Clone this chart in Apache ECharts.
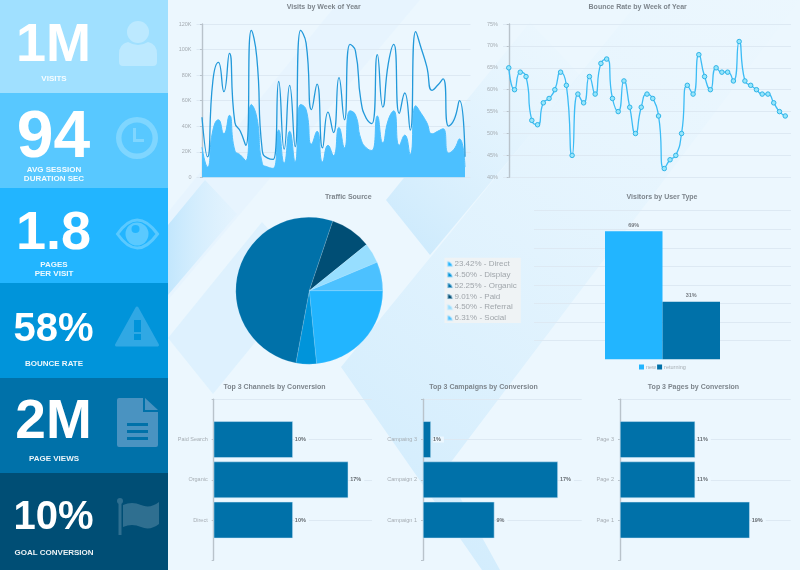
<!DOCTYPE html>
<html>
<head>
<meta charset="utf-8">
<style>
  html, body { margin: 0; padding: 0; background: #e9f6fe; }
  #main { width: 800px; height: 570px; }
</style>
<script src="https://cdn.jsdelivr.net/npm/echarts@6/dist/echarts.min.js"></script>
</head>
<body>
<div id="main"></div>
<script>
// kpi tiles
const tileValues = ['1M', '94', '1.8', '58%', '2M', '10%']
const tileLabels = [['VISITS'], ['AVG SESSION', 'DURATION SEC'], ['PAGES', 'PER VISIT'], ['BOUNCE RATE'], ['PAGE VIEWS'], ['GOAL CONVERSION']]

// weekly charts, values
const visitsTotal = [47000, 16000, 76000, 90000, 67000, 97000, 43000, 36000, 25000, 115000, 94000, 21000, 15000, 14000, 75000, 22000, 72000, 24000, 115000, 105000, 53000, 73000, 23000, 51000, 35000, 78000, 45000, 104000, 99000, 60000, 46000, 42000, 96000, 55000, 89000, 104000, 50000, 66000, 37000, 114000, 101000, 87000, 68000, 72000, 77000, 40000, 45000, 60000, 16000]
const visitsNew = [23500, 8000, 37000, 45000, 34000, 48500, 21000, 17500, 13000, 57000, 47000, 11000, 8000, 7000, 37000, 11000, 36000, 12000, 57000, 53000, 26000, 36000, 12000, 25000, 17000, 39000, 23000, 52000, 49000, 30000, 23000, 21000, 48000, 27000, 45000, 52000, 25000, 33000, 18000, 56000, 50000, 43000, 34000, 36000, 38000, 19000, 22000, 30000, 8000]
const bounceRate = [65, 60, 64, 63, 53, 52, 57, 58, 60, 64, 61, 45, 59, 57, 63, 59, 66, 67, 58, 55, 62, 56, 50, 56, 59, 58, 54, 42, 44, 45, 50, 61, 59, 68, 63, 60, 65, 64, 64, 62, 71, 62, 61, 60, 59, 59, 57, 55, 54]

// traffic source pie
const trafficNames = ['Direct', 'Display', 'Organic', 'Paid', 'Referral', 'Social']
const trafficValues = [23.42, 4.5, 52.25, 9.01, 4.5, 6.31]
const trafficColors = ['#22b5ff', '#0094da', '#0071a9', '#004e75', '#97deff', '#4cc1ff']

// user type bars
const userTypes = ['new', 'returning']
const userValues = [69, 31]

// top 3 bars, blank slots keep the axis ends free
const channelCats = ['', 'Direct', 'Organic', 'Paid Search', '']
const channelVals = [null, 10, 17, 10, null]
const campaignCats = ['', 'Campaign 1', 'Campaign 2', 'Campaing 3', '']
const campaignVals = [null, 9, 17, 1, null]
const pageCats = ['', 'Page 1', 'Page 2', 'Page 3', '']
const pageVals = [null, 19, 11, 11, null]

const FONT = "'Liberation Sans', Arial, sans-serif"
const GRID_LINE = { show: true, lineStyle: { color: '#dde9f3', width: 1.2 } }
const AXIS_LINE = { show: true, lineStyle: { color: '#b9c3cb', width: 1.4 } }
const TICK = { show: true, length: 2, lineStyle: { color: '#b9c3cb' } }
const LABEL = { color: '#a6adb3', fontSize: 5.5, fontFamily: FONT, margin: 5 }

const gradient = (a, b, x2 = 1, y = 0) => ({
  type: 'linear', x: 0, y, x2, y2: 0,
  colorStops: [{ offset: 0, color: a }, { offset: 1, color: b }],
})

const poly = (points, fill) => ({ type: 'polygon', z: -10, silent: true, shape: { points }, style: { fill } })

const background = [
  { type: 'rect', z: -11, silent: true, shape: { x: 168, y: 0, width: 632, height: 570 }, style: { fill: '#ecf7fe' } },
  poly([[168, 212], [340, 0], [420, 0], [168, 300]], 'rgba(214,238,253,0.22)'),
  poly([[168, 225], [168, 295], [237, 214], [205, 180]], gradient('rgba(190,229,253,0.9)', 'rgba(215,239,253,0.2)')),
  poly([[168, 338], [213, 394], [310, 275], [262, 222]], 'rgba(212,237,253,0.55)'),
  poly([[386, 200], [430, 255], [580, 75], [530, 22]], gradient('rgba(195,230,252,0.85)', 'rgba(225,243,254,0.03)', 1, 1)),
  poly([[341, 367], [640, 0], [800, 0], [445, 470], [500, 570], [482, 570]], gradient('rgba(195,230,252,0.75)', 'rgba(225,243,254,0.03)', 1, 1)),
]

const tileColors = ['#a0e0ff', '#58c8ff', '#22b5ff', '#0094da', '#0071a9', '#004e75']
const tileTops = [0, 93, 188, 283, 378, 473, 570]
const valueSizes = [54, 66, 54, 40, 55, 40]
const valueY = [46, 139, 234, 330, 423, 518]
const labelY = [79, 170, 265, 364, 459, 553]

const tiles = []
tileColors.forEach((color, i) => {
  tiles.push({ type: 'rect', silent: true, shape: { x: 0, y: tileTops[i], width: 168, height: tileTops[i + 1] - tileTops[i] }, style: { fill: color } })
  tiles.push({
    type: 'text', silent: true,
    style: { text: tileValues[i], x: 53.5, y: valueY[i], textAlign: 'center', textVerticalAlign: 'middle', fill: '#fff', font: `bold ${valueSizes[i]}px ${FONT}` },
  })
  tileLabels[i].forEach((line, j) => {
    tiles.push({
      type: 'text', silent: true,
      style: { text: line, x: 54, y: labelY[i] + j * 9, textAlign: 'center', textVerticalAlign: 'middle', fill: 'rgba(255,255,255,0.92)', font: `bold 8px ${FONT}` },
    })
  })
})

// graphic has no raw svg path element, so each icon path gets its own shape class
let shapeCount = 0
const svgShape = (d, style) => {
  const name = 'iconPath' + shapeCount++
  echarts.graphic.registerShape(name, echarts.graphic.extendPath(d, {}))
  return { type: name, silent: true, style }
}

// icons are solid tints of their tile, holes painted in the tile colour
const iconColors = ['#bce9ff', '#7fd6ff', '#5ac9ff', '#30a8e4', '#4a93c1', '#2f6f90']
const icons = [
  // user
  { type: 'circle', silent: true, shape: { cx: 138, cy: 32, r: 11 }, style: { fill: iconColors[0] } },
  svgShape('M128 42 Q138 48 148 42 Q157 44 157 54 L157 62 Q157 66 153 66 L123 66 Q119 66 119 62 L119 54 Q119 44 128 42 Z', { fill: iconColors[0] }),
  // clock
  { type: 'ring', silent: true, shape: { cx: 137, cy: 138, r: 21, r0: 15.5 }, style: { fill: iconColors[1] } },
  svgShape('M133 128 L136 128 L136 139 L144 139 L144 142 L133 142 Z', { fill: iconColors[1] }),
  // eye
  svgShape('M117.5 234 Q137 206 157.5 234 Q137 262 117.5 234 Z', { fill: 'none', stroke: iconColors[2], lineWidth: 3 }),
  { type: 'circle', silent: true, shape: { cx: 137, cy: 234, r: 11.5 }, style: { fill: iconColors[2] } },
  { type: 'circle', silent: true, shape: { cx: 135.5, cy: 229, r: 4 }, style: { fill: '#22b5ff' } },
  // warning
  svgShape('M137 308 L157.5 345 L116.5 345 Z', { fill: iconColors[3], stroke: iconColors[3], lineWidth: 3, lineJoin: 'round' }),
  { type: 'rect', silent: true, shape: { x: 134, y: 320, width: 7, height: 12 }, style: { fill: '#0094da' } },
  { type: 'rect', silent: true, shape: { x: 134, y: 334, width: 7, height: 6 }, style: { fill: '#0094da' } },
  // document
  svgShape('M119 398 L143 398 L143 412 L158 412 L158 445 Q158 447 156 447 L119 447 Q117 447 117 445 L117 400 Q117 398 119 398 Z', { fill: iconColors[4] }),
  svgShape('M145 398 L158 410 L145 410 Z', { fill: iconColors[4] }),
  { type: 'rect', silent: true, shape: { x: 127, y: 423, width: 21, height: 3 }, style: { fill: '#0071a9' } },
  { type: 'rect', silent: true, shape: { x: 127, y: 430, width: 21, height: 3 }, style: { fill: '#0071a9' } },
  { type: 'rect', silent: true, shape: { x: 127, y: 437, width: 21, height: 3 }, style: { fill: '#0071a9' } },
  // flag
  { type: 'circle', silent: true, shape: { cx: 120, cy: 501, r: 3 }, style: { fill: iconColors[5] } },
  { type: 'rect', silent: true, shape: { x: 118.5, y: 502, width: 3, height: 33 }, style: { fill: iconColors[5] } },
  svgShape('M123 505 Q132 501 141 505 Q150 509 159 502 L159 524 Q150 531 141 527 Q132 523 123 527 Z', { fill: iconColors[5] }),
]

const titleAt = (text, x, y) => ({
  text, left: x, top: y, textAlign: 'center', padding: 0,
  textStyle: { color: '#7d858c', fontSize: 7, fontWeight: 'bold', fontFamily: FONT },
})

const weekAxis = (gridIndex) => ({ type: 'value', gridIndex, min: -1, max: 49, show: false })
const withWeek = (values) => values.map((v, i) => [i, v])

const grids = [
  { left: 196.5, width: 274, top: 24, height: 153.3 },
  { left: 503, width: 288, top: 24, height: 153.3 },
  { left: 534, width: 257, top: 210.7, height: 148.6 },
  { left: 213.7, width: 158.3, top: 399.3, height: 161 },
  { left: 423, width: 158.7, top: 399.3, height: 161 },
  { left: 620, width: 170.7, top: 399.3, height: 161 },
]

const topCategoryAxis = (gridIndex, data) => ({
  type: 'category', gridIndex, data, boundaryGap: false,
  axisLine: AXIS_LINE, axisTick: TICK, axisLabel: { ...LABEL, margin: 6, interval: 0 },
  splitLine: { ...GRID_LINE, showMinLine: false },
})
const topValueAxis = (gridIndex, max) => ({ type: 'value', gridIndex, min: 0, max, show: false })

const topSeries = (name, index, data) => ({
  name, type: 'bar', xAxisIndex: index, yAxisIndex: index, data, barWidth: 36.5,
  itemStyle: { color: '#0071a9', borderColor: '#cfe8f8', borderWidth: 0.5 },
  label: {
    show: true, position: 'right', distance: 2, formatter: '{c}%', color: '#666c72', fontSize: 5.5, fontWeight: 'bold', fontFamily: FONT,
    backgroundColor: '#edf8ff', padding: [0, 3, 0, 0],
  },
})

const option = {
  animation: false,
  backgroundColor: '#e9f6fe',
  title: [
    titleAt('Visits by Week of Year', 323.7, 4),
    titleAt('Bounce Rate by Week of Year', 637.7, 4),
    titleAt('Traffic Source', 348.3, 194),
    titleAt('Visitors by User Type', 662, 194),
    titleAt('Top 3 Channels by Conversion', 274.5, 384),
    titleAt('Top 3 Campaigns by Conversion', 483.5, 384),
    titleAt('Top 3 Pages by Conversion', 693.5, 384),
  ],
  legend: [
    {
      data: trafficNames, orient: 'vertical', left: 444.5, top: 257.7, selectedMode: false,
      backgroundColor: '#eff3f5', padding: [1.3, 4, 0, 2], itemWidth: 5, itemHeight: 5, itemGap: 0.8,
      icon: 'path://M0 10 L0 0 A10 10 0 0 1 10 10 Z',
      formatter: (name) => `${trafficValues[trafficNames.indexOf(name)].toFixed(2)}% - ${name}`,
      textStyle: { color: '#a0a6ab', fontSize: 8, lineHeight: 10, padding: [0, 0, 0, -3], fontFamily: FONT },
    },
    {
      data: userTypes, left: 639, top: 364, selectedMode: false, padding: 0,
      itemWidth: 5, itemHeight: 5, itemGap: 1, icon: 'rect',
      textStyle: { color: '#a6adb3', fontSize: 5.5, padding: [0, 0, 0, -3], fontFamily: FONT },
    },
  ],
  graphic: { elements: [...background, ...tiles, ...icons] },
  grid: grids,
  xAxis: [
    weekAxis(0),
    weekAxis(1),
    { type: 'category', gridIndex: 2, data: ['users'], show: false },
    topValueAxis(3, 20),
    topValueAxis(4, 20),
    topValueAxis(5, 25),
  ],
  yAxis: [
    {
      type: 'value', gridIndex: 0, min: 0, max: 120000, interval: 20000,
      axisLine: AXIS_LINE, axisTick: TICK, splitLine: GRID_LINE,
      axisLabel: { ...LABEL, formatter: (v) => (v ? v / 1000 + 'K' : '0') },
    },
    {
      type: 'value', gridIndex: 1, min: 40, max: 75, interval: 5,
      axisLine: AXIS_LINE, axisTick: TICK, splitLine: GRID_LINE,
      axisLabel: { ...LABEL, formatter: '{value}%' },
    },
    { type: 'value', gridIndex: 2, min: 0, max: 80, interval: 10, axisLine: { show: false }, axisTick: { show: false }, axisLabel: { show: false }, splitLine: { ...GRID_LINE, showMinLine: false } },
    topCategoryAxis(3, channelCats),
    topCategoryAxis(4, campaignCats),
    topCategoryAxis(5, pageCats),
  ],
  series: [
    {
      name: 'new visits', type: 'line', xAxisIndex: 0, yAxisIndex: 0, data: withWeek(visitsNew), smooth: 0.55, showSymbol: false,
      lineStyle: { color: '#4cc0ff', width: 1 }, areaStyle: { color: '#4cc0ff', opacity: 1 },
    },
    {
      name: 'visits', type: 'line', xAxisIndex: 0, yAxisIndex: 0, data: withWeek(visitsTotal), smooth: 0.55, showSymbol: false,
      lineStyle: { color: '#2299da', width: 1.3 },
    },
    {
      name: 'bounce', type: 'line', xAxisIndex: 1, yAxisIndex: 1, data: withWeek(bounceRate), smooth: 0.6,
      symbol: 'circle', symbolSize: 4.5,
      lineStyle: { color: '#3cbcf5', width: 1.3 }, itemStyle: { color: '#97e6fb', borderColor: '#2fb4e8', borderWidth: 1 },
    },
    {
      type: 'pie', center: [309.3, 290.7], radius: 73.5, startAngle: 0, clockwise: true,
      label: { show: false }, labelLine: { show: false }, silent: true,
      itemStyle: { borderColor: 'rgba(220,240,252,0.5)', borderWidth: 0.3 },
      data: trafficNames.map((name, i) => ({ name, value: trafficValues[i], itemStyle: { color: trafficColors[i] } })),
    },
    ...userTypes.map((name, i) => ({
      name, type: 'bar', xAxisIndex: 2, yAxisIndex: 2, data: [userValues[i]], barWidth: 57.5, barGap: 0,
      itemStyle: { color: ['#22b5ff', '#0071a9'][i] },
      label: { show: true, position: 'top', distance: 3, formatter: '{c}%', color: '#767c82', fontSize: 5.5, fontWeight: 'bold', fontFamily: FONT },
    })),
    topSeries('channels', 3, channelVals),
    topSeries('campaigns', 4, campaignVals),
    topSeries('pages', 5, pageVals),
  ],
}

const chart = echarts.init(document.getElementById('main'), null, { renderer: 'canvas' })
chart.setOption(option)
</script>
</body>
</html>
